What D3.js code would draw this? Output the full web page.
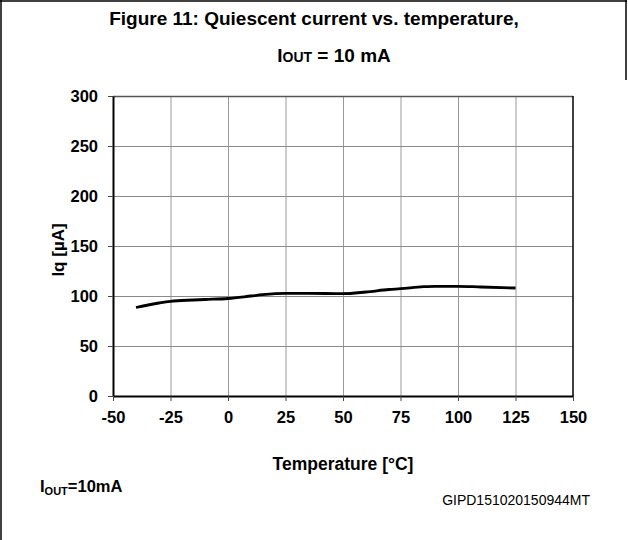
<!DOCTYPE html>
<html>
<head>
<meta charset="utf-8">
<script src="https://cdn.jsdelivr.net/npm/d3@7"></script>
<style>
  html, body { margin: 0; padding: 0; background: #fff; }
  svg { display: block; font-family: "Liberation Sans", Arial, sans-serif; }
</style>
</head>
<body>
<svg id="chart" width="628" height="540"></svg>
<script>
// ---- data ----
const temperature = [-40, -30, -25, -15, -10, 0, 10, 15, 25, 35, 50, 60, 70, 75, 85, 90, 100, 110, 125];
const iq = [88.5, 93, 94.7, 96, 96.5, 97.5, 100, 101.3, 102.7, 102.7, 102.3, 104, 106.5, 107.3, 109.3, 109.7, 109.7, 109, 108];
const xTicks = [-50, -25, 0, 25, 50, 75, 100, 125, 150];
const yTicks = [0, 50, 100, 150, 200, 250, 300];

const svg = d3.select("#chart");
const W = 628, H = 540;
const m = { left: 113, right: 573, top: 96, bottom: 396 };

const x = d3.scaleLinear().domain([-50, 150]).range([m.left, m.right]);
const y = d3.scaleLinear().domain([0, 300]).range([m.bottom, m.top]);

// outer frame (partial, as in reference)
svg.append("line").attr("x1", 1).attr("x2", 1).attr("y1", 0).attr("y2", H)
  .attr("stroke", "#000").attr("stroke-width", 1.5);
svg.append("line").attr("x1", 0).attr("x2", 627).attr("y1", 1).attr("y2", 1)
  .attr("stroke", "#000").attr("stroke-width", 1.5);
svg.append("line").attr("x1", 626).attr("x2", 626).attr("y1", 0).attr("y2", 80)
  .attr("stroke", "#000").attr("stroke-width", 1.5);

// title
svg.append("text").attr("x", 314).attr("y", 25).attr("text-anchor", "middle")
  .attr("font-size", 19).attr("font-weight", "bold").attr("fill", "#000")
  .text("Figure 11: Quiescent current vs. temperature,");
const t2 = svg.append("text").attr("x", 334).attr("y", 62).attr("text-anchor", "middle")
  .attr("font-size", 19).attr("font-weight", "bold").attr("fill", "#000");
t2.append("tspan").text("I");
t2.append("tspan").attr("font-size", 14).text("OUT");
t2.append("tspan").text(" = 10 mA");

// gridlines
const grid = svg.append("g");
grid.selectAll("line.v").data(xTicks.filter(d => d > -50 && d < 150)).join("line")
  .attr("x1", d => x(d) + 0.5).attr("x2", d => x(d) + 0.5)
  .attr("y1", y(300)).attr("y2", y(0))
  .attr("stroke", "#9a9a9a").attr("stroke-width", 1);
grid.selectAll("line.h").data(yTicks.filter(d => d > 0)).join("line")
  .attr("x1", x(-50)).attr("x2", x(150))
  .attr("y1", d => y(d) + 0.5).attr("y2", d => y(d) + 0.5)
  .attr("stroke", d => d === 300 ? "#555" : "#8a8a8a").attr("stroke-width", d => d === 300 ? 1.5 : 1);
// right border of plot
svg.append("line").attr("x1", x(150)).attr("x2", x(150)).attr("y1", y(300)).attr("y2", y(0))
  .attr("stroke", "#000").attr("stroke-width", 1.5);

// axes
const fmt = d => String(d);
const yAxis = d3.axisLeft(y).tickValues(yTicks).tickFormat(fmt).tickSize(5).tickSizeOuter(0).tickPadding(10);
const gy = svg.append("g").attr("transform", `translate(${m.left},0)`).call(yAxis);
const xAxis = d3.axisBottom(x).tickValues(xTicks).tickFormat(fmt).tickSize(5).tickSizeOuter(0).tickPadding(10);
const gx = svg.append("g").attr("transform", `translate(0,${m.bottom})`).call(xAxis);
[gx, gy].forEach(g => {
  g.select(".domain").attr("stroke", "#000").attr("stroke-width", 2);
  g.selectAll(".tick line").attr("stroke", "#444").attr("stroke-width", 1);
  g.selectAll(".tick text").attr("font-family", "Liberation Sans, Arial, sans-serif")
    .attr("font-size", 16.5).attr("font-weight", "bold").attr("fill", "#000");
});

// data line
const line = d3.line().x((d, i) => x(temperature[i])).y(d => y(d)).curve(d3.curveMonotoneX);
svg.append("path").datum(iq).attr("d", line)
  .attr("fill", "none").attr("stroke", "#000").attr("stroke-width", 2.8)
  .attr("stroke-linecap", "butt");

// axis titles
svg.append("text").attr("x", 343).attr("y", 470).attr("text-anchor", "middle")
  .attr("font-size", 17.5).attr("font-weight", "bold").attr("fill", "#000")
  .text("Temperature [°C]");
svg.append("text").attr("transform", `translate(64,${(m.top + m.bottom) / 2 + 4}) rotate(-90)`)
  .attr("text-anchor", "middle")
  .attr("font-size", 17).attr("font-weight", "bold").attr("fill", "#000")
  .text("Iq [µA]");

// bottom notes
const n1 = svg.append("text").attr("x", 40).attr("y", 492)
  .attr("font-size", 16.5).attr("font-weight", "bold").attr("fill", "#000");
n1.append("tspan").text("I");
n1.append("tspan").attr("font-size", 11).attr("dy", 3).text("OUT");
n1.append("tspan").attr("dy", -3).text("=10mA");
svg.append("text").attr("x", 590).attr("y", 505).attr("text-anchor", "end")
  .attr("font-size", 14).attr("fill", "#000")
  .text("GIPD151020150944MT");
</script>
</body>
</html>
